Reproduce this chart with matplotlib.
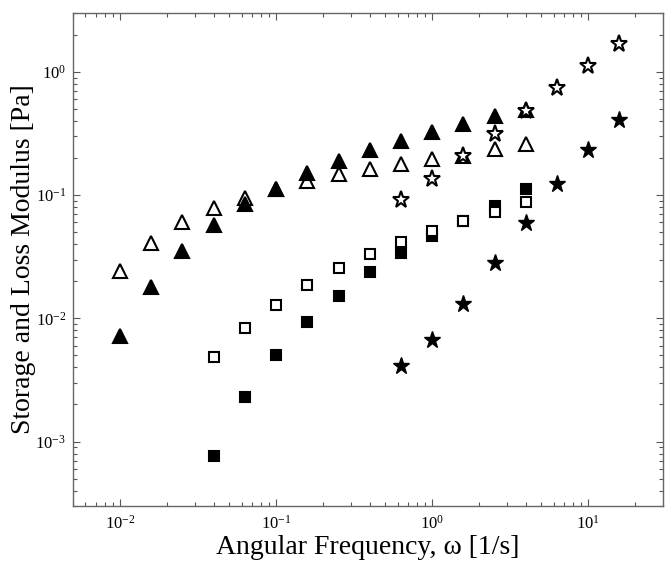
import matplotlib
matplotlib.use("Agg")
import math
import matplotlib.pyplot as plt
from matplotlib.ticker import LogLocator, FuncFormatter, NullFormatter

plt.rcParams['font.family'] = ['Liberation Serif', 'DejaVu Serif']
plt.rcParams['mathtext.fontset'] = 'custom'
plt.rcParams['mathtext.rm'] = 'Liberation Serif'
plt.rcParams['mathtext.it'] = 'Liberation Serif:italic'

# Angular frequencies [1/s]
freq_tri = [0.01, 0.0158, 0.0251, 0.0398, 0.0631, 0.1, 0.158, 0.251, 0.398,
            0.631, 1.0, 1.58, 2.51, 3.98]
freq_sq = [0.0398, 0.0631, 0.1, 0.158, 0.251, 0.398, 0.631, 1.0, 1.58, 2.51, 3.98]
freq_star = [0.631, 1.0, 1.58, 2.51, 3.98, 6.31, 10.0, 15.8]

# Moduli [Pa]
tri_filled = [0.0072, 0.0178, 0.035, 0.057, 0.084, 0.113, 0.150, 0.189, 0.232,
              0.275, 0.327, 0.379, 0.438, 0.495]
tri_open = [0.024, 0.0405, 0.061, 0.079, 0.0955, 0.113, 0.130, 0.1475, 0.164,
            0.178, 0.195, 0.208, 0.235, 0.261]
sq_filled = [0.00076, 0.00229, 0.00508, 0.0093, 0.0153, 0.0236, 0.0339, 0.0468,
             0.0618, 0.0818, 0.1114]
sq_open = [0.00483, 0.00835, 0.0129, 0.01875, 0.0255, 0.0332, 0.042, 0.0513,
           0.062, 0.0735, 0.088]
star_filled = [0.00414, 0.00667, 0.01305, 0.0279, 0.0598, 0.1224, 0.2306, 0.409]
star_open = [0.0908, 0.134, 0.208, 0.311, 0.483, 0.742, 1.11, 1.686]

fig = plt.figure(figsize=(6.65, 5.64), dpi=100)
ax = fig.add_axes([0.1098, 0.1028, 0.887, 0.874])

mew = 1.5
ax.plot(freq_tri, tri_open, linestyle='none', marker='^', ms=10.5, mfc='white', mec='black', mew=mew)
ax.plot(freq_tri, tri_filled, linestyle='none', marker='^', ms=10.5, mfc='black', mec='black', mew=mew)
ax.plot(freq_sq, sq_filled, linestyle='none', marker='s', ms=7.5, mfc='black', mec='black', mew=mew)
ax.plot(freq_sq, sq_open, linestyle='none', marker='s', ms=7.5, mfc='white', mec='black', mew=mew)
ax.plot(freq_star, star_filled, linestyle='none', marker='*', ms=12.5, mfc='black', mec='black', mew=1.0)
ax.plot(freq_star, star_open, linestyle='none', marker='*', ms=12.5, mfc='white', mec='black', mew=mew)

ax.set_xscale('log')
ax.set_yscale('log')
ax.set_xlim(0.005, 30)
ax.set_ylim(3e-4, 3)

def fmt(v, pos):
    e = int(round(math.log10(v)))
    if e < 0:
        return r'$10^{\mathrm{-%d}}$' % (-e)
    return r'$10^{%d}$' % e

for axis in (ax.xaxis, ax.yaxis):
    axis.set_major_locator(LogLocator(base=10, numticks=20))
    axis.set_minor_locator(LogLocator(base=10, subs=range(2, 10), numticks=20))
    axis.set_major_formatter(FuncFormatter(fmt))
    axis.set_minor_formatter(NullFormatter())

ax.tick_params(which='both', direction='in', top=True, right=True, colors='#555555',
               labelcolor='black', labelsize=12)
ax.tick_params(which='major', length=5, width=0.8)
ax.tick_params(axis='y', which='major', pad=5)
ax.tick_params(axis='x', which='major', pad=6)
ax.tick_params(which='minor', length=3, width=0.8)
for s in ax.spines.values():
    s.set_color('#666666')
    s.set_linewidth(1.0)

ax.set_xlabel('Angular Frequency, ω [1/s]', fontsize=20)
ax.set_ylabel('Storage and Loss Modulus [Pa]', fontsize=20)
ax.xaxis.set_label_coords(0.5, -0.058)
ax.yaxis.set_label_coords(-0.063, 0.5)

fig.savefig('out.png', dpi=100)
